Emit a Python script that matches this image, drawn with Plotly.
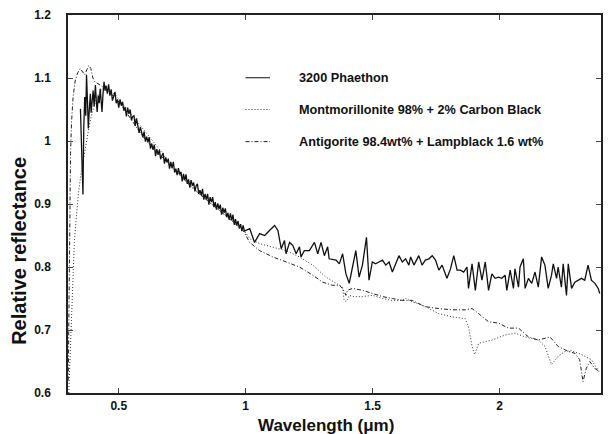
import plotly.graph_objects as go

# ---------------- data ----------------
phaethon_wl = [
    0.349, 0.353, 0.356, 0.359, 0.362, 0.366, 0.370, 0.373, 0.377, 0.380,
    0.384, 0.388, 0.391, 0.395, 0.399, 0.403, 0.408, 0.412, 0.415, 0.419,
    0.423, 0.427, 0.431, 0.434, 0.438, 0.442, 0.446,
    0.450, 0.455, 0.460, 0.465, 0.470, 0.475, 0.480, 0.485, 0.490, 0.495,
    0.500, 0.505, 0.510, 0.515, 0.520, 0.525, 0.530, 0.535, 0.540, 0.545,
    0.550, 0.555, 0.560, 0.565, 0.570, 0.575, 0.580, 0.585, 0.590, 0.595,
    0.600, 0.605, 0.610, 0.615, 0.620, 0.625, 0.630, 0.635, 0.640, 0.645,
    0.650, 0.655, 0.660, 0.665, 0.670, 0.675, 0.680, 0.685, 0.690, 0.695,
    0.700, 0.705, 0.710, 0.715, 0.720, 0.725, 0.730, 0.735, 0.740, 0.745,
    0.750, 0.755, 0.760, 0.765, 0.770, 0.775, 0.780, 0.785, 0.790, 0.795,
    0.800, 0.805, 0.810, 0.815, 0.820, 0.825, 0.830, 0.835, 0.840, 0.845,
    0.850, 0.855, 0.860, 0.865, 0.870, 0.875, 0.880, 0.885, 0.890, 0.895,
    0.900, 0.905, 0.910, 0.915, 0.920, 0.925, 0.930, 0.935, 0.940, 0.945,
    0.950, 0.955, 0.960, 0.965, 0.970, 0.975, 0.980, 0.985, 0.990, 0.995,
    1.016, 1.035, 1.055, 1.075, 1.094, 1.114, 1.127, 1.140, 1.153, 1.159,
    1.173, 1.186, 1.199, 1.212, 1.218, 1.231, 1.251, 1.271, 1.284, 1.297,
    1.310, 1.323, 1.329, 1.356, 1.369, 1.382, 1.395, 1.408, 1.421, 1.434,
    1.447, 1.460, 1.476, 1.486, 1.499, 1.512, 1.525, 1.539, 1.552, 1.565,
    1.578, 1.591, 1.604, 1.617, 1.630, 1.643, 1.650, 1.663, 1.669, 1.682,
    1.695, 1.708, 1.722, 1.735, 1.748, 1.761, 1.774, 1.787, 1.793, 1.807,
    1.820, 1.833, 1.846, 1.859, 1.872, 1.878, 1.892, 1.905, 1.918, 1.931,
    1.944, 1.957, 1.970, 1.983, 1.996, 2.009, 2.022, 2.029, 2.042, 2.055,
    2.061, 2.075, 2.081, 2.094, 2.101, 2.114, 2.127, 2.140, 2.153, 2.166,
    2.179, 2.192, 2.205, 2.212, 2.225, 2.231, 2.244, 2.251, 2.264, 2.271,
    2.284, 2.297, 2.310, 2.323, 2.336, 2.349, 2.362, 2.376, 2.389, 2.395,
]
phaethon_refl = [
    1.051, 1.000, 0.960, 0.915, 1.020, 1.070, 1.040, 1.105, 1.060, 1.020,
    1.050, 1.075, 1.045, 1.062, 1.080, 1.055, 1.089, 1.060, 1.046, 1.072,
    1.060, 1.083, 1.065, 1.046, 1.075, 1.094, 1.080,
    1.088, 1.075, 1.090, 1.072, 1.082, 1.064, 1.074, 1.078, 1.060, 1.066,
    1.053, 1.066, 1.056, 1.062, 1.048, 1.054, 1.039, 1.053, 1.043, 1.050,
    1.033, 1.039, 1.040, 1.024, 1.036, 1.021, 1.013, 1.022, 1.015, 1.006,
    1.015, 0.999, 1.007, 0.998, 1.006, 0.988, 0.996, 0.986, 0.994, 0.976,
    0.987, 0.978, 0.986, 0.971, 0.977, 0.981, 0.964, 0.974, 0.966, 0.972,
    0.956, 0.967, 0.957, 0.967, 0.950, 0.956, 0.946, 0.957, 0.947, 0.951,
    0.936, 0.948, 0.938, 0.947, 0.932, 0.939, 0.926, 0.938, 0.929, 0.934,
    0.920, 0.929, 0.932, 0.916, 0.922, 0.914, 0.924, 0.907, 0.916, 0.907,
    0.916, 0.899, 0.911, 0.903, 0.911, 0.895, 0.903, 0.891, 0.901, 0.892,
    0.899, 0.883, 0.894, 0.886, 0.893, 0.879, 0.886, 0.875, 0.885, 0.874,
    0.883, 0.867, 0.876, 0.866, 0.873, 0.861, 0.868, 0.857, 0.866, 0.857,
    0.861, 0.839, 0.853, 0.850, 0.858, 0.866, 0.858, 0.829, 0.842, 0.821,
    0.839, 0.834, 0.821, 0.832, 0.816, 0.826, 0.826, 0.839, 0.821, 0.839,
    0.818, 0.832, 0.813, 0.811, 0.805, 0.821, 0.789, 0.774, 0.800, 0.826,
    0.784, 0.803, 0.847, 0.779, 0.808, 0.805, 0.808, 0.811, 0.803, 0.808,
    0.792, 0.805, 0.818, 0.808, 0.813, 0.803, 0.816, 0.803, 0.808, 0.818,
    0.803, 0.811, 0.813, 0.818, 0.811, 0.795, 0.803, 0.789, 0.782, 0.797,
    0.818, 0.795, 0.795, 0.792, 0.800, 0.766, 0.805, 0.763, 0.808, 0.779,
    0.808, 0.763, 0.789, 0.782, 0.784, 0.782, 0.787, 0.763, 0.795, 0.766,
    0.797, 0.768, 0.800, 0.813, 0.766, 0.782, 0.774, 0.792, 0.768, 0.816,
    0.803, 0.766, 0.787, 0.805, 0.782, 0.800, 0.768, 0.805, 0.755, 0.805,
    0.766, 0.776, 0.779, 0.782, 0.779, 0.803, 0.779, 0.774, 0.766, 0.758,
]

montmorillonite_wl = [
    0.303, 0.308, 0.313, 0.318, 0.325, 0.333, 0.342, 0.352, 0.362, 0.372,
    0.382, 0.392, 0.402, 0.412, 0.425, 0.440, 0.455, 0.470, 0.490, 0.510,
    0.530, 0.550, 0.570, 0.590, 0.610, 0.630, 0.650, 0.670, 0.690, 0.710,
    0.730, 0.750, 0.780, 0.810, 0.840, 0.870, 0.900, 0.930, 0.960, 0.990,
    1.016, 1.055, 1.107, 1.159, 1.212, 1.264, 1.316, 1.356, 1.382, 1.388,
    1.397, 1.408, 1.427, 1.460, 1.499, 1.539, 1.578, 1.617, 1.630, 1.656,
    1.708, 1.761, 1.813, 1.865, 1.878, 1.892, 1.902, 1.918, 1.970, 2.022,
    2.061, 2.101, 2.153, 2.179, 2.205, 2.231, 2.258, 2.284, 2.323, 2.362,
    2.395,
]
montmorillonite_refl = [
    0.600, 0.660, 0.720, 0.780, 0.840, 0.880, 0.920, 0.950, 0.975, 1.000,
    1.020, 1.040, 1.055, 1.068, 1.078, 1.084, 1.083, 1.078, 1.072, 1.062,
    1.052, 1.043, 1.033, 1.022, 1.012, 1.003, 0.993, 0.982, 0.970, 0.960,
    0.950, 0.941, 0.929, 0.918, 0.908, 0.898, 0.889, 0.880, 0.870, 0.860,
    0.845, 0.837, 0.832, 0.826, 0.816, 0.803, 0.784, 0.774, 0.768, 0.747,
    0.745, 0.755, 0.753, 0.753, 0.755, 0.750, 0.747, 0.747, 0.750, 0.745,
    0.737, 0.726, 0.721, 0.718, 0.705, 0.674, 0.661, 0.679, 0.684, 0.692,
    0.695, 0.689, 0.684, 0.674, 0.645, 0.658, 0.666, 0.667, 0.661, 0.653,
    0.632,
]

antigorite_wl = [
    0.301, 0.303, 0.305, 0.307, 0.310, 0.314, 0.320, 0.328, 0.338, 0.348,
    0.358, 0.366, 0.374, 0.382, 0.390, 0.398, 0.406, 0.415, 0.430, 0.450,
    0.470, 0.490, 0.510, 0.530, 0.550, 0.570, 0.590, 0.610, 0.630, 0.650,
    0.670, 0.690, 0.710, 0.730, 0.750, 0.780, 0.810, 0.840, 0.870, 0.900,
    0.930, 0.960, 0.990,
    1.016, 1.055, 1.107, 1.159, 1.212, 1.264, 1.303, 1.342, 1.369, 1.382,
    1.395, 1.401, 1.421, 1.460, 1.499, 1.539, 1.578, 1.617, 1.656, 1.682,
    1.708, 1.761, 1.813, 1.865, 1.892, 1.918, 1.957, 1.996, 2.035, 2.075,
    2.114, 2.153, 2.199, 2.231, 2.271, 2.297, 2.316, 2.329, 2.342, 2.356,
    2.375, 2.395,
]
antigorite_refl = [
    0.620, 0.700, 0.800, 0.900, 0.980, 1.030, 1.070, 1.095, 1.108, 1.115,
    1.110, 1.105, 1.113, 1.120, 1.115, 1.100, 1.094, 1.092, 1.088, 1.082,
    1.075, 1.067, 1.057, 1.045, 1.035, 1.022, 1.010, 1.000, 0.992, 0.983,
    0.975, 0.966, 0.958, 0.950, 0.942, 0.930, 0.919, 0.909, 0.899, 0.889,
    0.879, 0.869, 0.858,
    0.839, 0.826, 0.816, 0.808, 0.800, 0.787, 0.776, 0.771, 0.771, 0.766,
    0.755, 0.763, 0.766, 0.763, 0.758, 0.753, 0.750, 0.747, 0.747, 0.742,
    0.737, 0.734, 0.732, 0.732, 0.734, 0.726, 0.713, 0.711, 0.703, 0.703,
    0.689, 0.684, 0.689, 0.674, 0.666, 0.663, 0.653, 0.618, 0.639, 0.650,
    0.639, 0.634,
]

series_names = [
    "3200 Phaethon",
    "Montmorillonite 98% + 2% Carbon Black",
    "Antigorite 98.4wt% + Lampblack 1.6 wt%",
]

x_ticks = [0.5, 1, 1.5, 2]
x_tick_text = ["0.5", "1", "1.5", "2"]
y_ticks = [0.6, 0.7, 0.8, 0.9, 1.0, 1.1, 1.2]
y_tick_text = ["0.6", "0.7", "0.8", "0.9", "1", "1.1", "1.2"]

# ---------------- figure ----------------
FONT = "Liberation Sans, Arial, Helvetica, sans-serif"
styles = [
    dict(color="#111111", width=1.3, dash="solid"),
    dict(color="#333333", width=1.0, dash="1px,2px"),
    dict(color="#222222", width=1.0, dash="4px,2px,1px,2px"),
]

fig = go.Figure()
for wl, refl, st in zip(
    [phaethon_wl, montmorillonite_wl, antigorite_wl],
    [phaethon_refl, montmorillonite_refl, antigorite_refl],
    styles,
):
    fig.add_trace(go.Scatter(x=wl, y=refl, mode="lines", line=st,
                             showlegend=False, hoverinfo="skip"))

# manual legend
leg_y = [0.834, 0.750, 0.665]
for name, st, yy in zip(series_names, styles, leg_y):
    fig.add_shape(type="line", xref="paper", yref="paper",
                  x0=0.333, x1=0.379, y0=yy, y1=yy,
                  line=dict(color=st["color"], width=1.0, dash=st["dash"]))
    fig.add_annotation(xref="paper", yref="paper", x=0.430, y=yy,
                       text="<b>" + name + "</b>", showarrow=False,
                       xanchor="left", yanchor="middle",
                       font=dict(family=FONT, size=12.7, color="#111111"))

# axis titles (positioned as in the original figure)
fig.add_annotation(xref="paper", yref="paper", x=0.484, y=-0.085,
                   text="<b>Wavelength (\u03bcm)</b>", showarrow=False,
                   xanchor="center", yanchor="middle",
                   font=dict(family=FONT, size=17, color="#111111"))
fig.add_annotation(xref="paper", yref="paper", x=-0.092, y=0.376,
                   text="<b>Relative reflectance</b>", showarrow=False,
                   textangle=-90, xanchor="center", yanchor="middle",
                   font=dict(family=FONT, size=20, color="#111111"))

axis_common = dict(
    showgrid=False, zeroline=False, showline=True, linecolor="#222222",
    linewidth=1.5, mirror="ticks", ticks="inside", ticklen=5, tickwidth=1,
    tickcolor="#444444",
    tickfont=dict(family=FONT, size=12, color="#111111", weight="bold"),
)

fig.update_layout(
    width=611, height=434,
    margin=dict(l=68, r=8, t=12, b=41),
    paper_bgcolor="white", plot_bgcolor="white",
    xaxis=dict(range=[0.3, 2.4], tickvals=x_ticks, ticktext=x_tick_text,
               ticklabelstandoff=1, **axis_common),
    yaxis=dict(range=[0.6, 1.2], tickvals=y_ticks, ticktext=y_tick_text,
               ticklabelstandoff=13, **axis_common),
)

fig.write_html("out.html")
